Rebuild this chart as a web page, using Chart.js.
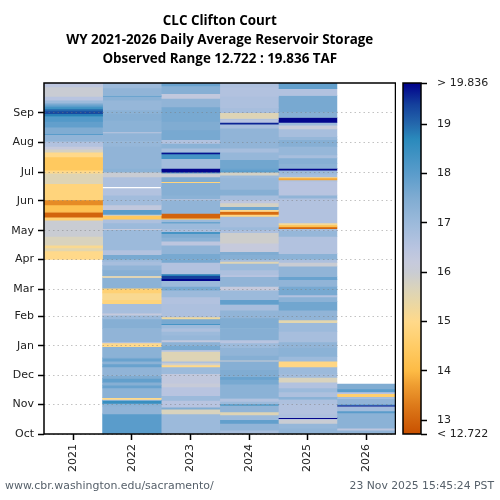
<!DOCTYPE html>
<html>
<head>
<meta charset="utf-8">
<script src="https://cdn.jsdelivr.net/npm/chart.js@4"></script>
<style>
  html, body { margin: 0; padding: 0; background: #fff; }
  canvas { position: absolute; top: 0; }
  #heat { left: 0; }
  #bar { left: 396px; }
  .foot { position: absolute; top: 479px; font-family: "DejaVu Sans"; color: #56606a; white-space: nowrap; }
</style>
</head>
<body>
<canvas id="heat" width="396" height="500"></canvas>
<canvas id="bar" width="104" height="500"></canvas>
<div class="foot" style="left:5px;font-size:10.95px">www.cbr.washington.edu/sacramento/</div>
<div class="foot" style="right:6px;font-size:10.8px">23 Nov 2025 15:45:24 PST</div>
<script>
// Water years and month ticks (days after Oct 1)
var years = ['2021', '2022', '2023', '2024', '2025', '2026'];
var monthDays = [0, 31, 61, 92, 123, 151, 182, 212, 243, 273, 304, 335];
var monthLabels = ['Oct', 'Nov', 'Dec', 'Jan', 'Feb', 'Mar', 'Apr', 'May', 'Jun', 'Jul', 'Aug', 'Sep'];

// Storage: each value holds from its day up to the next day in the list
var days2021 = [182,191,194,197,206,223,226,231,232,239,244,261,272,275,289,294,297,300,305,312,313,320,326,331,332,334,337,339,341,343,345,348,352,362,366];
var taf2021 = [15.0,15.5,15.1,15.7,16.0,14.7,13.0,13.7,14.2,13.5,14.8,15.6,15.0,14.4,15.0,15.8,16.2,16.6,17.2,18.2,17.5,17.9,18.1,18.4,18.8,19.3,19.0,18.4,18.0,17.6,17.0,16.5,16.0,16.4];

var days2022 = [0,21,29,32,35,36,38,48,51,54,58,61,70,73,76,79,80,91,95,96,110,120,124,126,136,140,147,152,163,165,171,176,180,182,187,192,213,214,220,224,228,229,234,239,249,256,258,268,273,277,300,305,314,315,327,334,338,348,352,353,361,366];
var taf2022 = [18.0,17.2,17.3,18.5,17.0,15.0,17.3,17.8,17.4,17.9,17.5,17.2,17.8,17.3,17.8,17.4,17.3,15.0,16.5,17.2,17.4,17.0,16.2,16.8,14.8,15.1,14.7,17.3,15.6,17.4,17.2,16.8,17.0,17.6,16.6,17.0,16.2,17.0,16.7,14.4,16.0,18.0,16.3,16.9,16.6,null,16.7,16.0,17.3,17.2,17.1,17.2,16.4,17.3,17.4,17.3,17.1,17.3,17.9,17.2,17.0];

var days2023 = [0,21,26,28,35,40,49,53,63,70,72,74,76,86,88,92,96,98,103,107,110,114,115,120,122,136,143,150,154,160,162,165,167,179,182,188,197,201,205,209,211,214,220,221,224,225,230,244,245,249,262,263,268,272,273,277,287,292,293,294,298,303,307,317,326,341,350,355,363,366];
var taf2023 = [17.0,15.7,17.5,16.5,17.0,16.5,16.1,16.3,17.0,15.0,15.9,16.7,15.6,16.6,17.6,17.3,16.3,17.1,17.0,16.7,17.0,18.3,17.6,15.3,16.7,16.6,17.0,17.6,17.0,19.8,19.4,18.8,16.6,17.6,17.6,17.2,16.4,17.3,17.5,18.3,16.8,17.0,18.5,17.0,14.5,13.0,17.2,16.4,17.3,17.4,14.8,17.5,16.0,18.0,19.8,16.9,18.3,19.8,19.4,16.8,17.3,16.6,17.6,17.5,17.6,17.2,16.3,17.4,17.8];

var days2024 = [0,4,11,15,20,23,30,31,34,37,52,57,60,67,76,77,82,90,95,98,110,121,129,135,140,150,154,164,166,171,178,180,182,187,190,199,210,213,216,227,229,232,234,237,241,244,249,255,267,270,273,275,277,286,294,298,319,323,325,328,329,335,340,352,362,366];
var taf2024 = [16.8,17.2,17.9,17.0,15.6,17.2,18.6,17.0,16.6,17.3,17.6,17.8,17.5,17.4,16.0,17.4,17.2,17.0,16.5,17.4,17.5,17.2,16.8,17.9,17.0,16.2,17.2,16.5,16.7,17.0,15.6,16.8,17.4,17.5,16.2,15.9,16.7,17.0,16.8,14.9,13.1,15.0,17.7,15.8,16.4,16.8,17.4,17.1,17.0,15.8,18.0,17.8,17.7,17.1,16.8,17.2,16.8,19.6,16.5,16.7,15.6,16.8,16.7,16.6,16.7];

var days2025 = [0,6,11,15,16,17,21,32,36,39,44,48,54,59,63,70,76,81,90,96,107,116,119,129,138,143,145,154,161,164,175,179,182,188,206,212,214,216,218,220,246,249,263,265,267,268,271,275,277,282,288,291,300,307,310,318,322,325,330,336,353,360,366];
var taf2025 = [17.2,17.1,16.0,16.5,19.8,16.7,16.6,16.7,17.3,16.7,17.0,16.6,15.7,16.9,17.0,14.9,17.0,17.3,17.2,16.8,17.0,15.5,17.2,17.7,17.3,16.6,17.6,17.2,17.8,17.2,16.0,16.7,17.3,16.6,17.1,16.8,13.0,14.2,15.2,16.6,17.2,16.5,16.6,13.8,14.8,16.8,17.0,19.8,17.3,17.4,16.8,17.1,17.4,17.1,16.8,16.1,17.0,19.8,17.4,17.6,16.6,17.9];

var days2026 = [0,4,6,22,24,29,30,31,37,39,42,44,47,52];
var taf2026 = [17.2,16.4,17.3,18.0,16.9,19.7,18.0,17.2,16.9,14.6,16.5,18.0,17.5];

// Colour scale, as seen on the colour bar
var rangeMin = 12.722;
var rangeMax = 19.836;
var scaleTicks = [13, 14, 15, 16, 17, 18, 19];
var stopValues = [12.722, 13.3, 13.7, 14.0, 14.5, 15.0, 15.4, 15.7, 16.0, 16.2, 16.5, 17.0, 17.5, 18.0, 18.7, 19.0, 19.4, 19.836];
var stopColors = ['#c85000', '#dd7a1a', '#ee9c30', '#fdbb45', '#ffcc66', '#ffd98a', '#e8d7a6', '#d9d3bd', '#c9ccd3', '#c6cadc', '#b8c4e0', '#9cbadb', '#80acd2', '#5a9ccb', '#2a8abc', '#2468ac', '#14409c', '#00008b'];

function hexToRgb(hex) {
    return [1, 3, 5].map(function (i) { return parseInt(hex.substr(i, 2), 16); });
}

function colorFor(value) {
    for (var i = 1; i < stopValues.length; i++) {
        if (value <= stopValues[i]) {
            var t = (value - stopValues[i - 1]) / (stopValues[i] - stopValues[i - 1]);
            var a = hexToRgb(stopColors[i - 1]), b = hexToRgb(stopColors[i]);
            return 'rgb(' + a.map(function (c, k) { return Math.round(c + (b[k] - c) * t); }).join(',') + ')';
        }
    }
    return stopColors[stopColors.length - 1];
}

function yearDataset(year, days, values) {
    var data = [], colors = [];
    values.forEach(function (v, i) {
        if (v === null) return;
        data.push({ x: year, y: [days[i], days[i + 1]] });
        colors.push(colorFor(v));
    });
    return { data: data, backgroundColor: colors, borderWidth: 0, grouped: false, barPercentage: 1, categoryPercentage: 1 };
}

// black box around the plot
var framePlugin = {
    id: 'frame',
    afterDraw: function (chart) {
        var a = chart.chartArea, ctx = chart.ctx;
        ctx.save();
        ctx.strokeStyle = '#000';
        ctx.lineWidth = 1.5;
        ctx.strokeRect(a.left, a.top, a.right - a.left, a.bottom - a.top);
        ctx.restore();
    }
};

var tickFont = { family: 'DejaVu Sans', size: 11 };

new Chart(document.getElementById('heat'), {
    type: 'bar',
    data: {
        labels: years,
        datasets: [
            yearDataset('2021', days2021, taf2021),
            yearDataset('2022', days2022, taf2022),
            yearDataset('2023', days2023, taf2023),
            yearDataset('2024', days2024, taf2024),
            yearDataset('2025', days2025, taf2025),
            yearDataset('2026', days2026, taf2026)
        ]
    },
    options: {
        responsive: false,
        animation: false,
        layout: { padding: { left: 0, right: 0.5, top: 0, bottom: 0 } },
        plugins: {
            legend: { display: false },
            tooltip: { enabled: false },
            title: {
                display: true,
                fullSize: false,
                text: ['CLC Clifton Court', 'WY 2021-2026 Daily Average Reservoir Storage', 'Observed Range 12.722 : 19.836 TAF'],
                color: '#000',
                font: { family: 'Open Sans', size: 13.4, weight: 'bold', lineHeight: '19px' },
                padding: { top: 12, bottom: 14 }
            }
        },
        scales: {
            x: {
                type: 'category',
                afterFit: function (s) { s.height = 66; },
                border: { display: false },
                grid: { offset: false, drawOnChartArea: false, tickColor: '#000', tickWidth: 1.5, tickLength: 6 },
                ticks: { font: tickFont, color: '#222', maxRotation: 90, minRotation: 90, padding: 4 }
            },
            y: {
                type: 'linear',
                min: 0,
                max: 366,
                afterFit: function (s) { s.width = 44; },
                afterBuildTicks: function (s) { s.ticks = monthDays.map(function (d) { return { value: d }; }); },
                border: { display: false, dash: [1.5, 3] },
                grid: { z: 1, color: 'rgba(120,120,120,0.45)', lineWidth: 1, tickColor: '#000', tickWidth: 1.5, tickLength: 6, tickBorderDash: [] },
                ticks: {
                    font: tickFont,
                    color: '#222',
                    padding: 4,
                    autoSkip: false,
                    callback: function (v) { return monthLabels[monthDays.indexOf(v)]; }
                }
            }
        }
    },
    plugins: [framePlugin]
});

// Colour bar: one bar from the bottom to the top of the range, painted with the stops
function barGradient(ctx) {
    var chart = ctx.chart;
    if (!chart.chartArea) return stopColors[0];
    var y = chart.scales.y;
    var bottom = y.getPixelForValue(rangeMin), top = y.getPixelForValue(rangeMax);
    var g = chart.ctx.createLinearGradient(0, bottom, 0, top);
    stopValues.forEach(function (v, i) {
        g.addColorStop((v - rangeMin) / (rangeMax - rangeMin), stopColors[i]);
    });
    return g;
}

new Chart(document.getElementById('bar'), {
    type: 'bar',
    data: {
        labels: ['TAF'],
        datasets: [{ data: [[rangeMin, rangeMax]], backgroundColor: barGradient, borderWidth: 0, barPercentage: 1, categoryPercentage: 1 }]
    },
    options: {
        responsive: false,
        animation: false,
        layout: { padding: { left: 7, top: 83, bottom: 66 } },
        plugins: { legend: { display: false }, tooltip: { enabled: false }, title: { display: false } },
        scales: {
            x: { display: false },
            y: {
                type: 'linear',
                position: 'right',
                min: rangeMin,
                max: rangeMax,
                afterFit: function (s) { s.width = 79; },
                afterBuildTicks: function (s) {
                    s.ticks = [rangeMin].concat(scaleTicks, [rangeMax]).map(function (v) { return { value: v }; });
                },
                border: { display: false },
                grid: { drawOnChartArea: false, tickColor: '#000', tickWidth: 1.5, tickLength: 6 },
                ticks: {
                    font: tickFont,
                    color: '#222',
                    padding: 10,
                    autoSkip: false,
                    callback: function (v) {
                        if (v === rangeMin) return '< ' + rangeMin;
                        if (v === rangeMax) return '> ' + rangeMax;
                        return v;
                    }
                }
            }
        }
    },
    plugins: [framePlugin]
});
</script>
</body>
</html>
